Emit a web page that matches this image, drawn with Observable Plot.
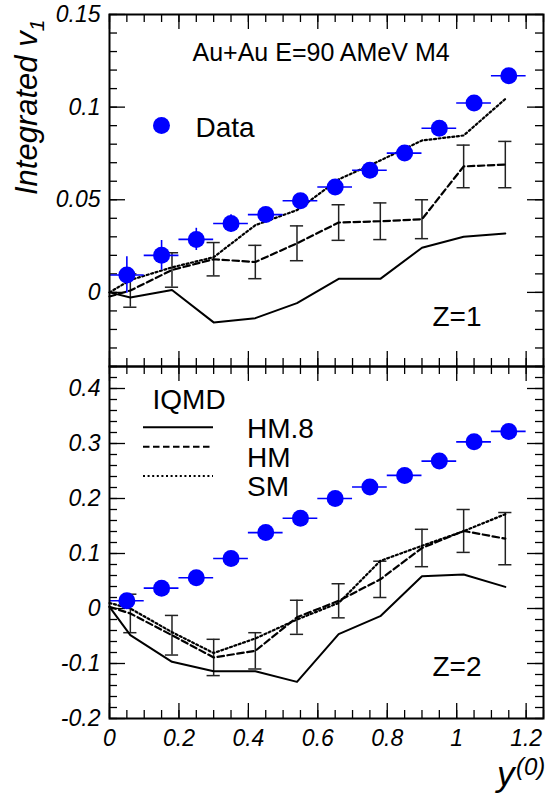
<!DOCTYPE html>
<html>
<head>
<meta charset="utf-8">
<script src="https://cdn.jsdelivr.net/npm/d3@7"></script>
<script src="https://cdn.jsdelivr.net/npm/@observablehq/plot@0.6"></script>
<style>
  body { margin: 0; background: #fff; }
  #chart { position: relative; width: 553px; height: 796px; font-family: "Liberation Sans", Arial, sans-serif; }
  #chart svg { position: absolute; left: 0; overflow: visible; background: transparent; }
</style>
</head>
<body>
<div id="chart"></div>
<script>
// Measured rapidity bins (centres of 0.1-wide bins)
const dataRapidity = [0.05, 0.15, 0.25, 0.35, 0.45, 0.55, 0.65, 0.75, 0.85, 0.95, 1.05, 1.15];
const dataHalfWidth = 0.05;

// Z=1 measured integrated v1 and its uncertainty
const z1Data    = [0.0094, 0.020, 0.0286, 0.0372, 0.042, 0.0495, 0.0569, 0.0659, 0.0752, 0.0886, 0.1022, 0.1169];
const z1DataErr = [0.0098, 0.008, 0.006, 0.0047, 0.003, 0.002, 0.002, 0.002, 0.002, 0.002, 0.002, 0.002];

// Z=2 measured integrated v1 and its uncertainty
const z2Data    = [0.014, 0.037, 0.056, 0.091, 0.138, 0.164, 0.200, 0.221, 0.242, 0.268, 0.303, 0.322];
const z2DataErr = [0.006, 0.006, 0.005, 0.005, 0.005, 0.005, 0.005, 0.005, 0.005, 0.005, 0.005, 0.005];

// IQMD rapidity points
const modelRapidity = [0, 0.06, 0.18, 0.30, 0.42, 0.54, 0.66, 0.78, 0.90, 1.02, 1.14];

// Z=1 IQMD curves
const z1HM8 = [0, -0.0028, 0.0013, -0.0162, -0.0139, -0.0058, 0.0073, 0.0073, 0.0241, 0.030, 0.0318];
const z1HM  = [-0.0022, 0.001, 0.0121, 0.0179, 0.0164, 0.0265, 0.0377, 0.0384, 0.0395, 0.068, 0.069];
const z1SM  = [0, 0.0067, 0.0135, 0.019, 0.0363, 0.0444, 0.061, 0.0712, 0.082, 0.0847, 0.1044];
const z1HMErr = [null, 0.009, 0.0093, 0.009, 0.009, 0.0094, 0.0096, 0.0099, 0.0105, 0.0115, 0.0125];

// Z=2 IQMD curves
const z2HM8 = [0.003, -0.0485, -0.097, -0.114, -0.114, -0.1334, -0.0467, -0.014, 0.0587, 0.0618, 0.0393];
const z2HM  = [0.003, -0.009, -0.0486, -0.089, -0.077, -0.016, 0.014, 0.053, 0.110, 0.141, 0.127];
const z2SM  = [0.010, 0.000, -0.043, -0.081, -0.0545, -0.020, 0.010, 0.0866, 0.114, 0.1405, 0.1715];
const z2HMErr = [null, 0.035, 0.036, 0.033, 0.033, 0.031, 0.031, 0.033, 0.034, 0.039, 0.0475];

// Axis ticks and labels
const xTicks = [0, 0.2, 0.4, 0.6, 0.8, 1.0, 1.2];
const z1YTicks = [0, 0.05, 0.1, 0.15];
const z2YTicks = [-0.2, -0.1, 0, 0.1, 0.2, 0.3, 0.4];

const legendEntries = ["HM.8", "HM", "SM"];

const W = 553, ML = 109, MR = 10;
const innerW = W - ML - MR;
const FONT = '"Liberation Sans", Arial, sans-serif';
const BLUE = "#0000ff";
const DASH = "6.5,3.5";
const DOT = "2,2.6";

function range(lo, hi, step) {
  const out = [];
  const n0 = Math.ceil(lo / step - 1e-9), n1 = Math.floor(hi / step + 1e-9);
  for (let n = n0; n <= n1; n++) out.push(+(n * step).toFixed(4));
  return out;
}

function panel(o) {
  const innerH = o.height - o.marginTop - o.marginBottom;
  const xDomain = [0, 1.25];
  const xMinor = range(0, 1.25, 0.05);
  const yMinor = range(o.yDomain[0], o.yDomain[1], o.yMinorStep);
  const yMajor = range(o.yDomain[0], o.yDomain[1], o.yMajorStep);
  const tick = {stroke: "black", strokeWidth: 1.3};
  const idx = d3.range(modelRapidity.length).filter(i => o.hmErr[i] != null);
  const di = d3.range(dataRapidity.length);
  const mi = d3.range(modelRapidity.length);
  const capHalf = 0.019;
  const barStyle = {stroke: "#222", strokeWidth: 1.5};

  return Plot.plot({
    width: W,
    height: o.height,
    marginLeft: ML,
    marginRight: MR,
    marginTop: o.marginTop,
    marginBottom: o.marginBottom,
    style: {fontFamily: FONT, fontSize: "23px", fontStyle: "italic", background: "transparent", overflow: "visible"},
    x: {domain: xDomain, axis: null},
    y: {domain: o.yDomain, axis: null},
    marks: [
      // inward ticks on all four sides
      Plot.tickX(xTicks, {x: d => d, insetTop: innerH - 15, ...tick}),
      Plot.tickX(xTicks, {x: d => d, insetBottom: innerH - 15, ...tick}),
      Plot.tickX(xMinor, {x: d => d, insetTop: innerH - 8, ...tick}),
      Plot.tickX(xMinor, {x: d => d, insetBottom: innerH - 8, ...tick}),
      Plot.tickY(yMajor, {y: d => d, insetRight: innerW - 16, ...tick}),
      Plot.tickY(yMajor, {y: d => d, insetLeft: innerW - 16, ...tick}),
      Plot.tickY(yMinor, {y: d => d, insetRight: innerW - 8, ...tick}),
      Plot.tickY(yMinor, {y: d => d, insetLeft: innerW - 8, ...tick}),

      // IQMD HM uncertainty bars with caps
      Plot.ruleX(idx, {x: i => modelRapidity[i], y1: i => o.hm[i] - o.hmErr[i], y2: i => o.hm[i] + o.hmErr[i], ...barStyle}),
      Plot.ruleY(idx, {y: i => o.hm[i] + o.hmErr[i], x1: i => modelRapidity[i] - capHalf, x2: i => modelRapidity[i] + capHalf, ...barStyle}),
      Plot.ruleY(idx, {y: i => o.hm[i] - o.hmErr[i], x1: i => modelRapidity[i] - capHalf, x2: i => modelRapidity[i] + capHalf, ...barStyle}),

      // IQMD curves
      Plot.line(mi, {x: i => modelRapidity[i], y: i => o.hm8[i], stroke: "black", strokeWidth: 2}),
      Plot.line(mi, {x: i => modelRapidity[i], y: i => o.hm[i], stroke: "black", strokeWidth: 2.2, strokeDasharray: DASH}),
      Plot.line(mi, {x: i => modelRapidity[i], y: i => o.sm[i], stroke: "black", strokeWidth: 2.2, strokeDasharray: DOT}),

      // measured points
      Plot.ruleY(di, {y: i => o.data[i], x1: i => dataRapidity[i] - dataHalfWidth, x2: i => dataRapidity[i] + dataHalfWidth, stroke: BLUE, strokeWidth: 1.6}),
      Plot.ruleX(di, {x: i => dataRapidity[i], y1: i => o.data[i] - o.dataErr[i], y2: i => o.data[i] + o.dataErr[i], stroke: BLUE, strokeWidth: 1.6}),
      Plot.dot(di, {x: i => dataRapidity[i], y: i => o.data[i], r: 8.5, fill: BLUE, stroke: null}),

      ...o.extra,

      Plot.frame({stroke: "black", strokeWidth: 2}),
      Plot.axisY(o.yTicks, {tickSize: 0, tickPadding: 9, tickFormat: d => String(d), label: null, fontSize: 23}),
      o.xLabels ? Plot.axisX(xTicks, {tickSize: 0, tickPadding: 11, tickFormat: d => String(d), label: null, fontSize: 23}) : null
    ]
  });
}

const chart = document.getElementById("chart");

const upperPanel = panel({
  height: 370, marginTop: 14, marginBottom: 4,
  yDomain: [-0.04, 0.15], yMajorStep: 0.05, yMinorStep: 0.01, yTicks: z1YTicks,
  data: z1Data, dataErr: z1DataErr,
  hm8: z1HM8, hm: z1HM, sm: z1SM, hmErr: z1HMErr,
  xLabels: false,
  extra: [
    Plot.text(["Au+Au E=90 AMeV M4"], {frameAnchor: "top-left", dx: 83, dy: 46, textAnchor: "start", lineAnchor: "bottom", fontSize: 25, fontStyle: "normal", fill: "black"}),
    Plot.dot([0], {frameAnchor: "top-left", dx: 52, dy: 111, r: 8.5, fill: BLUE, stroke: null}),
    Plot.text(["Data"], {frameAnchor: "top-left", dx: 86, dy: 122, textAnchor: "start", lineAnchor: "bottom", fontSize: 28, fontStyle: "normal", fill: "black"}),
    Plot.text(["Z=1"], {frameAnchor: "top-left", dx: 323, dy: 311, textAnchor: "start", lineAnchor: "bottom", fontSize: 28, fontStyle: "normal", fill: "black"})
  ]
});
upperPanel.style.top = "0px";
chart.appendChild(upperPanel);

const lowerPanel = panel({
  height: 440, marginTop: 10, marginBottom: 78,
  yDomain: [-0.2, 0.44], yMajorStep: 0.1, yMinorStep: 0.02, yTicks: z2YTicks,
  data: z2Data, dataErr: z2DataErr,
  hm8: z2HM8, hm: z2HM, sm: z2SM, hmErr: z2HMErr,
  xLabels: true,
  extra: [
    Plot.text(["IQMD"], {frameAnchor: "top-left", dx: 43, dy: 42, textAnchor: "start", lineAnchor: "bottom", fontSize: 28, fontStyle: "normal", fill: "black"}),
    Plot.text(["Z=2"], {frameAnchor: "top-left", dx: 323, dy: 309, textAnchor: "start", lineAnchor: "bottom", fontSize: 28, fontStyle: "normal", fill: "black"})
  ]
});
lowerPanel.style.top = "356px";
chart.appendChild(lowerPanel);

// Legend samples and axis titles
const ov = d3.select(chart).append("svg")
  .attr("width", 553).attr("height", 796)
  .style("top", "0px").style("pointer-events", "none")
  .style("font-family", FONT);

const legendY = [427.3, 446.7, 476];
const legendTextY = [438, 467, 496];
const dashes = [null, DASH, DOT];
legendEntries.forEach((name, i) => {
  ov.append("line").attr("x1", 143).attr("x2", 213).attr("y1", legendY[i]).attr("y2", legendY[i])
    .attr("stroke", "black").attr("stroke-width", 2).attr("stroke-dasharray", dashes[i]);
  ov.append("text").attr("x", 247).attr("y", legendTextY[i]).attr("font-size", 28).text(name);
});

const yTitle = ov.append("text")
  .attr("transform", "translate(37,195) rotate(-90)")
  .attr("font-size", 31).attr("font-style", "italic");
yTitle.append("tspan").text("Integrated v");
yTitle.append("tspan").attr("font-size", 21).attr("dy", 7).text("1");

ov.append("text").attr("x", 497).attr("y", 786).attr("font-size", 35).attr("font-style", "italic").text("y");
ov.append("text").attr("x", 516).attr("y", 775).attr("font-size", 24).attr("font-style", "italic").text("(0)");
</script>
</body>
</html>
